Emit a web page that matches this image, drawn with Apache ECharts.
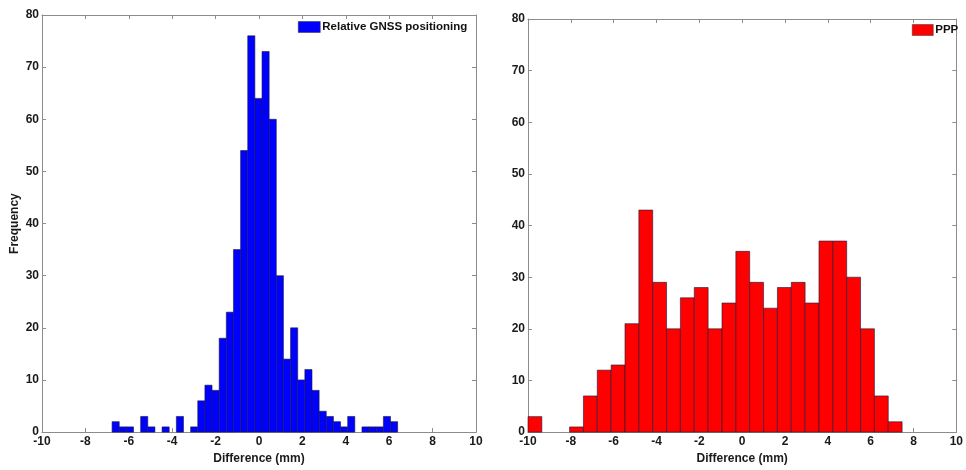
<!DOCTYPE html>
<html>
<head>
<meta charset="utf-8">
<script src="https://cdn.jsdelivr.net/npm/echarts@6/dist/echarts.min.js"></script>
<style>
html,body{margin:0;padding:0;background:#fff;}
#chart{width:966px;height:470px;}
</style>
</head>
<body>
<div id="chart"></div>
<script>
// ---- data ----
const xTicks = [-10, -8, -6, -4, -2, 0, 2, 4, 6, 8, 10];
const yTicks = [0, 10, 20, 30, 40, 50, 60, 70, 80];

const gnssName = 'Relative GNSS positioning';
const gnssBinStart = -6.77;
const gnssBinWidth = 0.329;
const gnssCounts = [2,1,1,0,3,1,0,1,0,3,0,1,6,9,8,18,23,35,54,76,64,73,60,30,14,20,10,12,8,4,3,2,1,3,0,1,1,1,3,2];

const pppName = 'PPP';
const pppBinStart = -10.0;
const pppBinWidth = 0.647;
const pppCounts = [3,0,0,1,7,12,13,21,43,29,20,26,28,20,25,35,29,24,28,29,25,37,37,30,20,7,2];

// ---- build ----
function bins(start, width, counts) {
  const out = [];
  counts.forEach((c, i) => {
    if (c > 0) out.push([start + i * width, start + (i + 1) * width, c]);
  });
  return out;
}

const FONT = 'Arial, "Liberation Sans", sans-serif';
const axisGray = '#8c8c8c';
const labelStyle = { color: '#1a1a1a', fontWeight: 'bold', fontSize: 12, fontFamily: FONT };
const nameStyle = { color: '#1a1a1a', fontWeight: 'bold', fontSize: 12, fontFamily: FONT };

function xAx(gridIndex, pos, showLabel, name, nameGap) {
  return {
    type: 'value', gridIndex, position: pos, min: xTicks[0], max: xTicks[xTicks.length - 1], interval: 2,
    axisLine: { show: true, onZero: false, lineStyle: { color: axisGray, width: 1 } },
    axisTick: { show: true, inside: true, length: 4, lineStyle: { color: axisGray } },
    axisLabel: Object.assign({ show: showLabel, margin: 4 }, labelStyle),
    splitLine: { show: false },
    name: name || '', nameLocation: 'middle', nameGap: nameGap || 0,
    nameTextStyle: nameStyle
  };
}
function yAx(gridIndex, pos, showLabel, name) {
  return {
    type: 'value', gridIndex, position: pos, min: yTicks[0], max: yTicks[yTicks.length - 1], interval: 10,
    axisLine: { show: true, onZero: false, lineStyle: { color: axisGray, width: 1 } },
    axisTick: { show: true, inside: true, length: 4, lineStyle: { color: axisGray } },
    axisLabel: Object.assign({ show: showLabel, margin: 3 }, labelStyle),
    splitLine: { show: false },
    name: name || '', nameLocation: 'middle', nameGap: 21, nameRotate: 90,
    nameTextStyle: nameStyle
  };
}

function histSeries(name, xi, yi, color, data) {
  return {
    name, type: 'custom', xAxisIndex: xi, yAxisIndex: yi,
    itemStyle: { color },
    renderItem: function (params, api) {
      const p0 = api.coord([api.value(0), api.value(2)]);
      const p1 = api.coord([api.value(1), 0]);
      return {
        type: 'rect',
        shape: { x: p0[0], y: p0[1], width: p1[0] - p0[0], height: p1[1] - p0[1] },
        style: { fill: color, stroke: '#1b1b3a', lineWidth: 0.6 }
      };
    },
    encode: { x: [0, 1], y: 2 },
    data
  };
}

const legendText = { color: '#111', fontWeight: 'bold', fontSize: 11.5, fontFamily: FONT, padding: [0,0,0,-3] };

const chart = echarts.init(document.getElementById('chart'), null, { renderer: 'canvas' });
chart.setOption({
  backgroundColor: '#fff',
  animation: false,
  grid: [
    { left: 42, top: 15, width: 434, height: 423 },
    { left: 528, top: 19, width: 435, height: 423 }
  ],
  xAxis: [
    xAx(0, 'bottom', true, 'Difference (mm)', 16),
    xAx(0, 'top', false),
    xAx(1, 'bottom', true, 'Difference (mm)', 15),
    xAx(1, 'top', false)
  ],
  yAxis: [
    yAx(0, 'left', true, 'Frequency'),
    yAx(0, 'right', false),
    yAx(1, 'left', true),
    yAx(1, 'right', false)
  ],
  legend: [
    { data: [gnssName], left: 298, top: 21, padding: 0, itemWidth: 22, itemHeight: 11, itemGap: 4,
      icon: 'rect', textStyle: legendText,
      itemStyle: { borderColor: '#333', borderWidth: 0.5 } },
    { data: [pppName], left: 912, top: 24, padding: 0, itemWidth: 21, itemHeight: 11, itemGap: 4,
      icon: 'rect', textStyle: legendText,
      itemStyle: { borderColor: '#333', borderWidth: 0.5 } }
  ],
  series: [
    histSeries(gnssName, 0, 0, '#0000ff', bins(gnssBinStart, gnssBinWidth, gnssCounts)),
    histSeries(pppName, 2, 2, '#ff0000', bins(pppBinStart, pppBinWidth, pppCounts))
  ]
});
</script>
</body>
</html>
